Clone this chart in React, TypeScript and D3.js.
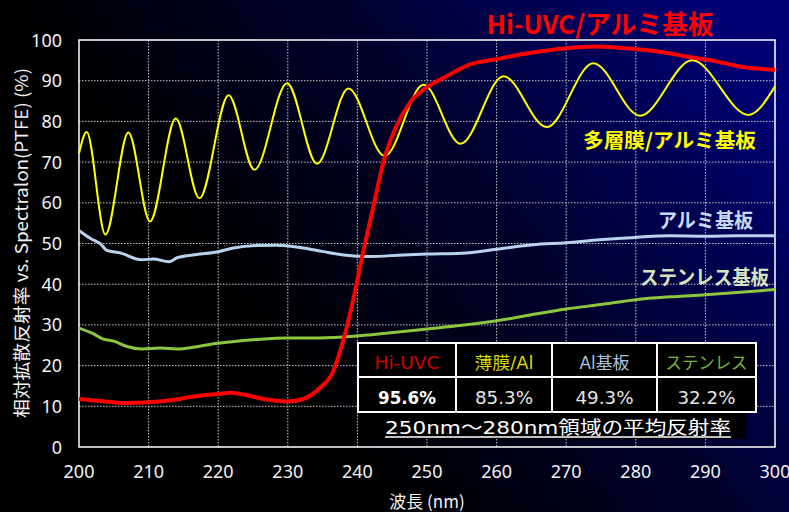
import React, { useEffect, useRef } from 'react';
import * as d3 from 'd3';

// 波長 (nm) / 反射率 (%) の目盛
const wavelengthTicks = [200, 210, 220, 230, 240, 250, 260, 270, 280, 290, 300];
const reflectanceTicks = [0, 10, 20, 30, 40, 50, 60, 70, 80, 90, 100];

// [nm, %]
const hiUvc: [number, number][] = [
  [200, 11.8], [203, 11.3], [206.6, 10.8], [210, 11.0], [213.1, 11.5], [216.9, 12.5],
  [220, 13.0], [221.7, 13.3], [223.6, 12.9], [226.5, 11.8], [230, 11.2], [232.2, 11.8],
  [234.6, 14.5], [236.5, 18.5], [238.0, 26.4], [239.4, 36.2], [240.8, 47.7], [242.3, 59.1],
  [243.7, 69.8], [245.6, 78.8], [247.5, 84.5], [250, 88.4], [252.8, 91.1], [256.2, 94.0],
  [260, 95.3], [264.7, 96.8], [270, 98.0], [274.3, 98.4], [279.1, 97.9], [283.9, 97.0],
  [287.7, 95.8], [291.5, 94.8], [294.9, 93.5], [300, 92.7]
];

const multilayer: [number, number][] = [
  [200, 72.1], [201.1, 77.4], [203.8, 52.2], [207.1, 77.3], [210.2, 55.4], [213.9, 80.7],
  [217.3, 61.1], [221.5, 86.4], [225.2, 68.1], [229.9, 89.4], [234.2, 69.6], [238.7, 88.1],
  [243.9, 71.5], [249.5, 89.0], [254.8, 74.5], [261.0, 91.1], [267.2, 78.6], [273.9, 94.3],
  [280.6, 81.4], [288.1, 95.0], [296.2, 81.6], [300, 88.6]
];

const aluminium: [number, number][] = [
  [200, 53.2], [201.6, 51.3], [203.1, 49.9], [204.0, 48.3], [205.9, 47.7], [209.0, 46.0],
  [210.7, 46.2], [212.9, 45.5], [214.1, 46.5], [216.9, 47.3], [219.8, 47.9], [222.2, 48.9],
  [225.5, 49.5], [228.4, 49.6], [232.2, 48.9], [235.1, 48.0], [238.0, 47.2], [241.8, 46.8],
  [246.6, 47.2], [250, 47.4], [255, 47.6], [260, 48.6], [265.2, 49.7], [270, 50.2],
  [274.8, 50.9], [280, 51.5], [284.8, 51.9], [290, 51.8], [294.9, 51.9], [300, 51.9]
];

const stainless: [number, number][] = [
  [200, 29.2], [202.1, 27.8], [203.5, 26.5], [205.0, 26.0], [206.9, 24.7], [209.0, 24.1],
  [211.7, 24.3], [214.1, 24.1], [216.4, 24.5], [218.8, 25.2], [221.7, 25.8], [225.5, 26.4],
  [229.8, 26.8], [234.6, 26.8], [239.4, 27.2], [242, 27.6], [250, 29.0], [255, 29.9],
  [260, 31.0], [265, 32.5], [270, 33.9], [275, 35.0], [280, 36.2], [285, 36.9],
  [290, 37.4], [295, 38.0], [300, 38.7]
];

const tableHeads = ['Hi-UVC', '薄膜/Al', 'Al基板', 'ステンレス'];
const tableValues = ['95.6%', '85.3%', '49.3%', '32.2%'];
const tableCaption = '250nm～280nm領域の平均反射率';

const App = () => {
  const ref = useRef<SVGSVGElement | null>(null);

  useEffect(() => {
    const W = 789;
    const H = 512;
    const left = 79, right = 775, top = 40, bottom = 447;
    const jp = '"Noto Sans CJK JP", "Noto Sans", sans-serif';
    const latin = '"Noto Sans", "Noto Sans CJK JP", sans-serif';
    const tbl = '"DejaVu Sans", "Noto Sans CJK JP", sans-serif';

    const svg = d3.select(ref.current);
    svg.selectAll('*').remove();

    const x = d3.scaleLinear().domain([200, 300]).range([left, right]);
    const y = d3.scaleLinear().domain([0, 100]).range([bottom, top]);

    // 背景グラデーション
    const grad = svg.append('defs').append('linearGradient')
      .attr('id', 'bg')
      .attr('x1', 0).attr('y1', 0.75).attr('x2', 1).attr('y2', 0.25);
    grad.append('stop').attr('offset', 0).attr('stop-color', '#000000');
    grad.append('stop').attr('offset', 0.3).attr('stop-color', '#000000');
    grad.append('stop').attr('offset', 0.65).attr('stop-color', '#00002e');
    grad.append('stop').attr('offset', 1).attr('stop-color', '#000072');

    svg.append('rect').attr('width', W).attr('height', H).attr('fill', 'url(#bg)');

    // グリッド
    const grid = svg.append('g')
      .attr('stroke', '#c8c8c8')
      .attr('stroke-width', 1)
      .attr('stroke-dasharray', '1.5,1.5');
    grid.selectAll('line.v')
      .data(wavelengthTicks.slice(1, -1))
      .enter().append('line')
      .attr('x1', d => x(d)).attr('x2', d => x(d))
      .attr('y1', top).attr('y2', bottom);
    grid.selectAll('line.h')
      .data(reflectanceTicks.slice(1, -1))
      .enter().append('line')
      .attr('x1', left).attr('x2', right)
      .attr('y1', d => y(d)).attr('y2', d => y(d));

    svg.append('rect')
      .attr('x', left).attr('y', top)
      .attr('width', right - left).attr('height', bottom - top)
      .attr('fill', 'none').attr('stroke', '#ffffff').attr('stroke-width', 1.5);

    // 目盛ラベル
    svg.append('g').selectAll('text')
      .data(wavelengthTicks)
      .enter().append('text')
      .attr('x', d => x(d)).attr('y', 478)
      .attr('text-anchor', 'middle')
      .attr('font-family', latin).attr('font-size', 18)
      .attr('fill', '#f2f2f2')
      .text(d => d);

    svg.append('g').selectAll('text')
      .data(reflectanceTicks)
      .enter().append('text')
      .attr('x', 62).attr('y', d => y(d) + 6.5)
      .attr('text-anchor', 'end')
      .attr('font-family', latin).attr('font-size', 18)
      .attr('fill', '#f2f2f2')
      .text(d => d);

    svg.append('text')
      .attr('x', 427).attr('y', 508)
      .attr('text-anchor', 'middle')
      .attr('font-family', jp).attr('font-size', 17)
      .attr('fill', '#f2f2f2')
      .text('波長 (nm)');

    svg.append('text')
      .attr('transform', 'translate(20,243) rotate(-90)')
      .attr('text-anchor', 'middle')
      .attr('dominant-baseline', 'central')
      .attr('font-family', jp).attr('font-size', 17.5)
      .attr('textLength', 350).attr('lengthAdjust', 'spacingAndGlyphs')
      .attr('fill', '#f2f2f2')
      .text('相対拡散反射率 vs. Spectralon(PTFE) (%)');

    // 曲線
    const line = d3.line<[number, number]>()
      .x(d => x(d[0]))
      .y(d => y(d[1]))
      .curve(d3.curveMonotoneX);

    const series = [
      { data: aluminium, color: '#b8d2ee', w: 3 },
      { data: stainless, color: '#8cc63f', w: 3 },
      { data: multilayer, color: '#ffff00', w: 2 },
      { data: hiUvc, color: '#ff0000', w: 4 }
    ];
    svg.append('g').selectAll('path')
      .data(series)
      .enter().append('path')
      .attr('d', d => line(d.data))
      .attr('fill', 'none')
      .attr('stroke', d => d.color)
      .attr('stroke-width', d => d.w)
      .attr('stroke-linejoin', 'round');

    // 系列ラベル
    const labels = [
      { text: 'Hi-UVC/アルミ基板', x: 600, y: 22.5, size: 26, len: 227, color: '#ff0000' },
      { text: '多層膜/アルミ基板', x: 669.5, y: 139, size: 20, len: 173, color: '#ffff00' },
      { text: 'アルミ基板', x: 705.5, y: 219, size: 20, len: 95, color: '#c6d9f1' },
      { text: 'ステンレス基板', x: 704.5, y: 276, size: 20, len: 129, color: '#d7e4bd' }
    ];
    svg.append('g').selectAll('text')
      .data(labels)
      .enter().append('text')
      .attr('x', d => d.x).attr('y', d => d.y)
      .attr('text-anchor', 'middle')
      .attr('dominant-baseline', 'central')
      .attr('font-family', jp).attr('font-weight', 'bold')
      .attr('font-size', d => d.size)
      .attr('textLength', d => d.len).attr('lengthAdjust', 'spacingAndGlyphs')
      .attr('fill', d => d.color)
      .text(d => d.text);

    // 表
    const cols = [358, 456, 552, 657, 756];
    const rows = [343, 377, 412];
    const t = svg.append('g');
    t.append('rect')
      .attr('x', cols[0]).attr('y', rows[0])
      .attr('width', cols[4] - cols[0]).attr('height', rows[2] - rows[0])
      .attr('fill', '#000000');
    t.append('rect')
      .attr('x', cols[0]).attr('y', rows[2])
      .attr('width', 388).attr('height', 27)
      .attr('fill', '#000000');
    t.selectAll('line.c')
      .data(cols.slice(1, -1))
      .enter().append('line')
      .attr('x1', d => d).attr('x2', d => d)
      .attr('y1', rows[0]).attr('y2', rows[2])
      .attr('stroke', '#ffffff').attr('stroke-width', 2);
    t.append('line')
      .attr('x1', cols[0]).attr('x2', cols[4])
      .attr('y1', rows[1]).attr('y2', rows[1])
      .attr('stroke', '#ffffff').attr('stroke-width', 2);
    t.append('rect')
      .attr('x', cols[0]).attr('y', rows[0])
      .attr('width', cols[4] - cols[0]).attr('height', rows[2] - rows[0])
      .attr('fill', 'none').attr('stroke', '#ffffff').attr('stroke-width', 2);

    const headColors = ['#d40000', '#d8d800', '#a9c4de', '#7ab53a'];
    const headLens = [65, 59, 50, 82];
    t.selectAll('text.h')
      .data(tableHeads)
      .enter().append('text')
      .attr('x', (d, i) => (cols[i] + cols[i + 1]) / 2)
      .attr('y', 368.5)
      .attr('text-anchor', 'middle')
      .attr('font-family', tbl).attr('font-size', 17)
      .attr('textLength', (d, i) => headLens[i]).attr('lengthAdjust', 'spacingAndGlyphs')
      .attr('fill', (d, i) => headColors[i])
      .text(d => d);

    t.selectAll('text.v')
      .data(tableValues)
      .enter().append('text')
      .attr('x', (d, i) => (cols[i] + cols[i + 1]) / 2)
      .attr('y', 403.5)
      .attr('text-anchor', 'middle')
      .attr('font-family', tbl).attr('font-size', 17)
      .attr('font-weight', (d, i) => (i === 0 ? 'bold' : 'normal'))
      .attr('textLength', 58).attr('lengthAdjust', 'spacingAndGlyphs')
      .attr('fill', (d, i) => (i === 0 ? '#ffffff' : '#e6e6e6'))
      .text(d => d);

    t.append('text')
      .attr('x', 558).attr('y', 433.5)
      .attr('text-anchor', 'middle')
      .attr('font-family', tbl).attr('font-size', 18)
      .attr('textLength', 346).attr('lengthAdjust', 'spacingAndGlyphs')
      .attr('fill', '#ffffff')
      .text(tableCaption);
    t.append('line')
      .attr('x1', 385).attr('x2', 731)
      .attr('y1', 437).attr('y2', 437)
      .attr('stroke', '#ffffff').attr('stroke-width', 1.5);
  }, []);

  return (
    <svg
      ref={ref}
      width={789}
      height={512}
      style={{ position: 'absolute', left: 0, top: 0, display: 'block' }}
    />
  );
};

export default App;
